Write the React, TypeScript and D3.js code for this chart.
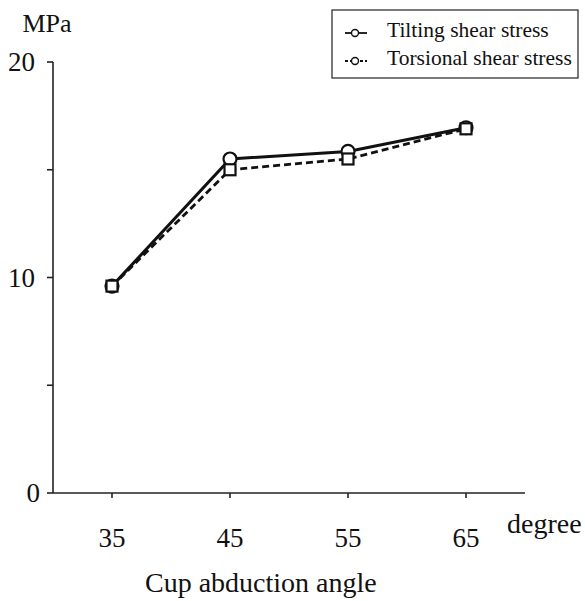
import { useMemo } from 'react'
import * as d3 from 'd3'

// Cup abduction angle (degree)
const angles = [35, 45, 55, 65]
// shear stress values in MPa
const tiltingStress = [9.6, 15.5, 15.85, 16.95]
const torsionalStress = [9.6, 15.0, 15.5, 16.9]

const yTicks = [0, 5, 10, 15, 20]
const yLabels = [0, 10, 20]

const W = 585
const H = 601
const txt = { fontFamily: 'Liberation Serif' }

function App() {
  const x = useMemo(() => d3.scaleLinear().domain([35, 65]).range([112, 466]), [])
  const y = useMemo(() => d3.scaleLinear().domain([0, 20]).range([493, 62]), [])

  const axisX = 53
  const axisRight = 525

  const line = d3.line<number>()
    .x((_, i) => x(angles[i]))
    .y(d => y(d))

  return (
    <div style={{ position: 'absolute', left: 0, top: 0 }}>
      <svg width={W} height={H} style={{ display: 'block', background: '#fff' }}>
        {/* Y axis */}
        <line x1={axisX} x2={axisX} y1={y(20)} y2={y(0)} stroke="#222" strokeWidth={1.6} />
        {yTicks.map(t => (
          <line key={t} x1={axisX - 6} x2={axisX} y1={y(t)} y2={y(t)} stroke="#222" strokeWidth={1.6} />
        ))}
        {yLabels.map(t => (
          <text key={t} style={txt} x={t === 0 ? 40 : 35} y={y(t)} dy="0.34em" textAnchor="end" fontSize={27} fill="#111">
            {t}
          </text>
        ))}
        <text style={txt} x={47} y={32} textAnchor="middle" fontSize={26} fill="#111">MPa</text>

        {/* X axis */}
        <line x1={axisX} x2={axisRight} y1={y(0)} y2={y(0)} stroke="#222" strokeWidth={1.6} />
        {angles.map(a => (
          <g key={a}>
            <line x1={x(a)} x2={x(a)} y1={y(0)} y2={y(0) + 5} stroke="#222" strokeWidth={1.6} />
            <text style={txt} x={x(a)} y={547} textAnchor="middle" fontSize={27} fill="#111">{a}</text>
          </g>
        ))}
        <text style={txt} x={507} y={533} fontSize={28} fill="#111">degree</text>
        <text style={txt} x={145} y={592} fontSize={28} fill="#111">Cup abduction angle</text>

        {/* series lines */}
        <path d={line(tiltingStress) ?? ''} fill="none" stroke="#111" strokeWidth={3} />
        <path d={line(torsionalStress) ?? ''} fill="none" stroke="#111" strokeWidth={2.8} strokeDasharray="7,4" />

        {/* markers */}
        {tiltingStress.map((v, i) => (
          <circle key={'c' + i} cx={x(angles[i])} cy={y(v)} r={6.5} fill="#fff" stroke="#111" strokeWidth={2.2} />
        ))}
        {torsionalStress.map((v, i) => (
          <rect key={'s' + i} x={x(angles[i]) - 5.5} y={y(v) - 5.5} width={11} height={11}
            fill="#fff" stroke="#111" strokeWidth={2.2} />
        ))}

        {/* legend */}
        <rect x={332} y={10} width={246} height={68} fill="#fff" stroke="#333" strokeWidth={1.3} />
        <line x1={345} x2={367} y1={33} y2={33} stroke="#111" strokeWidth={1.8} />
        <circle cx={355} cy={33} r={3.5} fill="#fff" stroke="#111" strokeWidth={1.4} />
        <text style={txt} x={387} y={37} fontSize={21.5} fill="#111">Tilting shear stress</text>
        <line x1={345} x2={367} y1={61} y2={61} stroke="#111" strokeWidth={1.8} strokeDasharray="3,2" />
        <circle cx={355} cy={61} r={3.5} fill="#fff" stroke="#111" strokeWidth={1.4} />
        <text style={txt} x={387} y={65} fontSize={21.5} fill="#111">Torsional shear stress</text>
      </svg>
    </div>
  )
}

export default App
